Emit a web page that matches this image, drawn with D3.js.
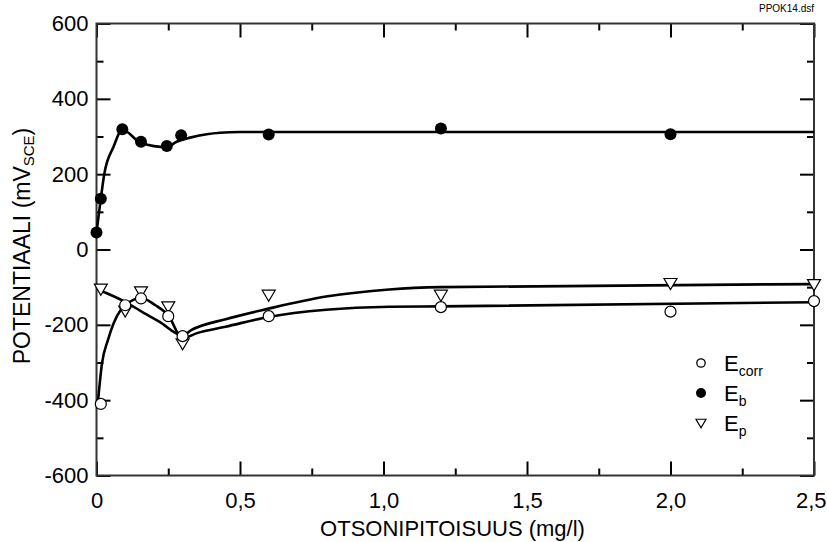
<!DOCTYPE html>
<html lang="en">
<head>
  <meta charset="UTF-8">
  <title>Potentiaali vs otsonipitoisuus</title>
  <script src="https://d3js.org/d3.v7.min.js"></script>
  <style>
    body { margin: 0; background: #fff; }
    text { font-family: "Liberation Sans", Arial, sans-serif; fill: #000; }
  </style>
</head>
<body>
<div id="chart"></div>
<script>
  // measured points (x = mg/l, y = mV)
  const ecorrX = [0.015, 0.1, 0.155, 0.25, 0.3, 0.6, 1.2, 2.0, 2.5];
  const ecorrY = [-410, -148, -130, -177, -230, -177, -153, -165, -137];
  const ebX = [0, 0.015, 0.09, 0.155, 0.245, 0.295, 0.6, 1.2, 2.0];
  const ebY = [45, 135, 319, 286, 275, 303, 305, 321, 306];
  const epX = [0.015, 0.1, 0.155, 0.25, 0.3, 0.6, 1.2, 2.0, 2.5];
  const epY = [-105, -163, -112, -152, -250, -121, -121, -90, -93];

  // fitted curves
  const ecorrFitX = [0.005, 0.019, 0.04, 0.06, 0.085, 0.1, 0.13, 0.155, 0.205, 0.25, 0.3, 0.35, 0.45, 0.6, 0.8, 1.02, 1.2, 2.5];
  const ecorrFitY = [-405, -303, -240, -195, -160, -148, -133, -128, -148, -175, -236, -222, -205, -179, -160, -152, -151, -140];
  const ebFitX = [0, 0.015, 0.027, 0.059, 0.09, 0.155, 0.245, 0.279, 0.326, 0.384, 0.43, 0.5, 2.5];
  const ebFitY = [45, 135, 200, 272, 318, 283, 272, 286, 297, 306, 310, 312, 312];
  const epFitX = [0.005, 0.1, 0.16, 0.22, 0.3, 0.33, 0.45, 0.6, 0.8, 1.02, 1.2, 2.5];
  const epFitY = [-106, -139, -166, -192, -228, -214, -185, -157, -125, -106, -100, -92];

  const xMajor = [0, 0.5, 1, 1.5, 2, 2.5];
  const xLabels = ["0", "0,5", "1,0", "1,5", "2,0", "2,5"];
  const xMinor = [0.25, 0.75, 1.25, 1.75, 2.25];
  const yMajor = [-600, -400, -200, 0, 200, 400, 600];
  const yMinor = [-500, -300, -100, 100, 300, 500];

  const W = 827, H = 542;
  const pL = 96.5, pR = 814, pT = 23.5, pB = 475.5;

  const svg = d3.select('#chart').append('svg')
    .attr('width', W)
    .attr('height', H);

  const x = d3.scaleLinear().domain([0, 2.5]).range([pL, pR]);
  const y = d3.scaleLinear().domain([-600, 600]).range([pB, pT]);

  // ticks (all pointing inwards), majors with labels
  function ticks(axis, pos, values, size, labels) {
    const g = svg.append('g')
      .attr('transform', pos)
      .call(axis.tickValues(values).tickSize(size).tickPadding(labels ? 8 : 0)
        .tickFormat(labels ? labels : () => ''));
    g.select('.domain').remove();
    g.selectAll('line').attr('stroke', '#000').attr('stroke-width', 2);
    g.selectAll('text').style('font-size', '22px').attr('font-family', null);
    return g;
  }

  const xl = ticks(d3.axisBottom(x), `translate(0,${pB})`, xMajor, -14, (d, i) => xLabels[i]);
  xl.selectAll('text').attr('y', 32).attr('dy', null);
  // last label would run off the page, keep it inside
  xl.selectAll('text').filter(d => d === 2.5).attr('text-anchor', 'end').attr('x', 826 - pR);
  ticks(d3.axisBottom(x), `translate(0,${pB})`, xMinor, -7);
  ticks(d3.axisTop(x), `translate(0,${pT})`, xMajor, -14);
  ticks(d3.axisTop(x), `translate(0,${pT})`, xMinor, -7);

  ticks(d3.axisLeft(y), `translate(${pL},0)`, yMajor, -14, d => String(d));
  ticks(d3.axisLeft(y), `translate(${pL},0)`, yMinor, -7);
  ticks(d3.axisRight(y), `translate(${pR},0)`, yMajor, -14);
  ticks(d3.axisRight(y), `translate(${pR},0)`, yMinor, -7);

  // frame
  svg.append('rect')
    .attr('x', pL).attr('y', pT)
    .attr('width', pR - pL).attr('height', pB - pT)
    .attr('fill', 'none')
    .attr('stroke', '#333')
    .attr('stroke-width', 2);

  // fitted lines
  const line = d3.line()
    .x(d => x(d[0]))
    .y(d => y(d[1]))
    .curve(d3.curveMonotoneX);

  [[ecorrFitX, ecorrFitY], [ebFitX, ebFitY], [epFitX, epFitY]].forEach(([xs, ys]) => {
    svg.append('path')
      .datum(xs.map((v, i) => [v, ys[i]]))
      .attr('d', line)
      .attr('fill', 'none')
      .attr('stroke', '#000')
      .attr('stroke-width', 2.6);
  });

  // markers
  const tri = s => `M${-s},${-s * 0.75}L${s},${-s * 0.75}L0,${s * 0.95}Z`;

  svg.append('g').selectAll('path')
    .data(epX.map((v, i) => [v, epY[i]]))
    .enter().append('path')
    .attr('transform', d => `translate(${x(d[0])},${y(d[1])})`)
    .attr('d', tri(6.5))
    .attr('fill', '#fff')
    .attr('stroke', '#000')
    .attr('stroke-width', 1.2);

  svg.append('g').selectAll('circle')
    .data(ecorrX.map((v, i) => [v, ecorrY[i]]))
    .enter().append('circle')
    .attr('cx', d => x(d[0]))
    .attr('cy', d => y(d[1]))
    .attr('r', 5.5)
    .attr('fill', '#fff')
    .attr('stroke', '#000')
    .attr('stroke-width', 1.2);

  svg.append('g').selectAll('circle')
    .data(ebX.map((v, i) => [v, ebY[i]]))
    .enter().append('circle')
    .attr('cx', d => x(d[0]))
    .attr('cy', d => y(d[1]))
    .attr('r', 6)
    .attr('fill', '#000');

  // legend
  const legend = [
    { sub: 'corr', kind: 'open' },
    { sub: 'b', kind: 'filled' },
    { sub: 'p', kind: 'tri' }
  ];
  legend.forEach((d, i) => {
    const ly = 363 + i * 30;
    if (d.kind === 'open') {
      svg.append('circle').attr('cx', 701).attr('cy', ly).attr('r', 4.2)
        .attr('fill', '#fff').attr('stroke', '#000').attr('stroke-width', 1.3);
    } else if (d.kind === 'filled') {
      svg.append('circle').attr('cx', 701).attr('cy', ly).attr('r', 5).attr('fill', '#000');
    } else {
      svg.append('path').attr('transform', `translate(701,${ly})`).attr('d', tri(5))
        .attr('fill', '#fff').attr('stroke', '#000').attr('stroke-width', 1.2);
    }
    const t = svg.append('text').attr('x', 724).attr('y', ly + 8).style('font-size', '22px');
    t.append('tspan').text('E');
    t.append('tspan').attr('dy', 5).style('font-size', '14px').text(d.sub);
  });

  // axis titles
  svg.append('text')
    .attr('x', 452.5).attr('y', 536)
    .attr('text-anchor', 'middle')
    .style('font-size', '22px')
    .text('OTSONIPITOISUUS (mg/l)');

  const yt = svg.append('text')
    .attr('transform', `translate(30,246) rotate(-90)`)
    .attr('text-anchor', 'middle')
    .style('font-size', '23px');
  yt.append('tspan').text('POTENTIAALI (mV');
  yt.append('tspan').attr('dy', 4).style('font-size', '15px').text('SCE');
  yt.append('tspan').attr('dy', -4).text(')');

  svg.append('text')
    .attr('x', pR).attr('y', 12)
    .attr('text-anchor', 'end')
    .style('font-size', '10px')
    .text('PPOK14.dsf');
</script>
</body>
</html>
